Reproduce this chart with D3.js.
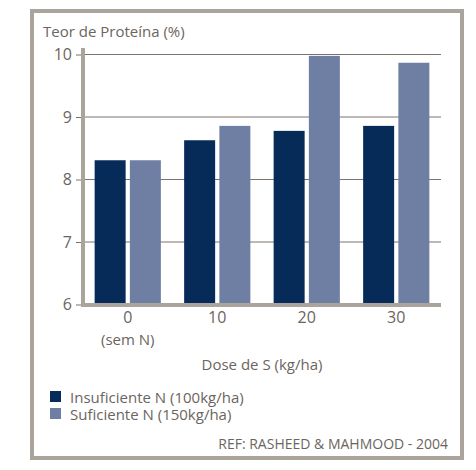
<!DOCTYPE html>
<html>
<head>
<meta charset="utf-8">
<script src="https://cdn.jsdelivr.net/npm/d3@7"></script>
<style>
  body { margin: 0; background: #fff; }
  text { font-family: "Open Sans", sans-serif; fill: #6b6560; }
</style>
</head>
<body>
<svg id="chart" width="476" height="470"></svg>
<script>
var doses = ['0', '10', '20', '30'];
var seriesNames = ['Insuficiente N (100kg/ha)', 'Suficiente N (150kg/ha)'];
var insuficiente = [8.30, 8.62, 8.77, 8.85];
var suficiente = [8.30, 8.85, 9.97, 9.86];
var yTicks = [6, 7, 8, 9, 10];
var colors = ['#072b58', '#6e7fa3'];

var svg = d3.select('#chart');
var plotLeft = 83, plotRight = 441, plotTop = 54, plotBottom = 304;

// frame
svg.append('rect')
    .attr('x', 32).attr('y', 11)
    .attr('width', 430).attr('height', 447)
    .attr('fill', 'none')
    .attr('stroke', '#aaa49d')
    .attr('stroke-width', 4);

var x0 = d3.scaleBand()
    .domain(doses)
    .range([plotLeft, plotRight])
    .paddingInner(0.26)
    .paddingOuter(0.13);

var x1 = d3.scaleBand()
    .domain(d3.range(seriesNames.length))
    .range([0, x0.bandwidth()])
    .paddingInner(0.12);

var y = d3.scaleLinear()
    .domain([6, 10])
    .range([plotBottom, plotTop]);

// gridlines
svg.append('g')
    .selectAll('line')
    .data(yTicks.slice(1))
    .join('line')
    .attr('x1', plotLeft).attr('x2', plotRight)
    .attr('y1', function(d) { return y(d) + 0.5 })
    .attr('y2', function(d) { return y(d) + 0.5 })
    .attr('stroke', '#7d736b')
    .attr('stroke-width', 1);

// y axis
var yAxis = svg.append('g')
    .attr('transform', 'translate(' + (plotLeft - 2) + ',0.5)')
    .call(d3.axisLeft(y).tickValues(yTicks).tickFormat(d3.format('d'))
        .tickSize(5).tickPadding(4));
yAxis.select('.domain').remove();
yAxis.selectAll('line').attr('stroke', '#7d736b');
yAxis.selectAll('text')
    .style('font-size', '16px')
    .style('font-family', '"Open Sans", sans-serif')
    .attr('fill', '#6b6560');

// bars
var groups = svg.append('g')
    .selectAll('g')
    .data(doses)
    .join('g')
    .attr('transform', function(d) { return 'translate(' + x0(d) + ',0)' });

groups.selectAll('rect')
    .data(function(d, i) { return [insuficiente[i], suficiente[i]] })
    .join('rect')
    .attr('x', function(d, j) { return x1(j) })
    .attr('width', x1.bandwidth())
    .attr('y', function(d) { return y(d) })
    .attr('height', function(d) { return plotBottom - y(d) })
    .attr('fill', function(d, j) { return colors[j] });

// axis lines
svg.append('line')
    .attr('x1', plotLeft).attr('x2', plotLeft)
    .attr('y1', 48).attr('y2', plotBottom + 3)
    .attr('stroke', '#aaa49d').attr('stroke-width', 4);
svg.append('line')
    .attr('x1', plotLeft - 2).attr('x2', plotRight)
    .attr('y1', plotBottom + 1).attr('y2', plotBottom + 1)
    .attr('stroke', '#aaa49d').attr('stroke-width', 4);

// x labels
var xAxis = svg.append('g')
    .attr('transform', 'translate(0,' + (plotBottom + 3) + ')')
    .call(d3.axisBottom(x0).tickSize(0).tickPadding(5));
xAxis.select('.domain').remove();
xAxis.selectAll('text')
    .style('font-size', '16px')
    .style('font-family', '"Open Sans", sans-serif')
    .attr('fill', '#6b6560');

svg.append('text')
    .attr('x', x0('0') + x0.bandwidth() / 2)
    .attr('y', 345)
    .attr('text-anchor', 'middle')
    .style('font-size', '15px')
    .text('(sem N)');

svg.append('text')
    .attr('x', (plotLeft + plotRight) / 2)
    .attr('y', 370)
    .attr('text-anchor', 'middle')
    .style('font-size', '15px')
    .text('Dose de S (kg/ha)');

svg.append('text')
    .attr('x', 43)
    .attr('y', 37)
    .style('font-size', '15px')
    .text('Teor de Proteína (%)');

// legend
var legend = svg.append('g')
    .selectAll('g')
    .data(seriesNames)
    .join('g')
    .attr('transform', function(d, i) { return 'translate(50,' + (391 + i * 17) + ')' });
legend.append('rect')
    .attr('width', 11).attr('height', 11)
    .attr('fill', function(d, i) { return colors[i] });
legend.append('text')
    .attr('x', 20).attr('y', 11.5)
    .style('font-size', '15px')
    .text(function(d) { return d });

svg.append('text')
    .attr('x', 448)
    .attr('y', 449)
    .attr('text-anchor', 'end')
    .style('font-size', '14px')
    .text('REF:  RASHEED & MAHMOOD - 2004');
</script>
</body>
</html>
